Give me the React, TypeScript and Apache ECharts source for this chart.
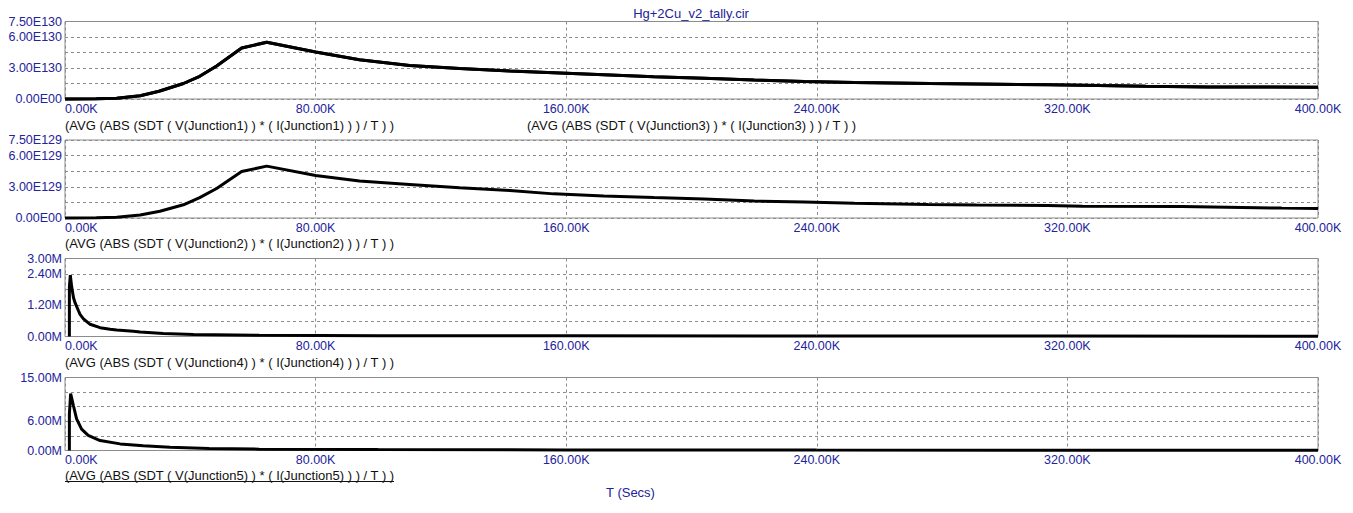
import React, { useEffect, useRef } from "react";
import * as echarts from "echarts";

// Time in thousands of seconds (K)
const xTicksK = [0, 80, 160, 240, 320, 400];

// Panel 1: Junction1 / Junction3 power, units of 1E130
const j1TimeK = [0, 1, 10, 16.5, 24, 30, 37.8, 43, 48.4, 56.4, 64.4, 80, 94, 110, 126, 142, 156, 172, 188, 204, 220, 236, 252, 276, 298, 314, 330, 345, 365, 400];
const j1ValE130 = [0, 0, 0.02, 0.07, 0.32, 0.75, 1.5, 2.2, 3.2, 4.93, 5.5, 4.55, 3.8, 3.25, 2.95, 2.72, 2.55, 2.35, 2.15, 2.02, 1.83, 1.7, 1.6, 1.5, 1.43, 1.37, 1.3, 1.24, 1.17, 1.14];
const j3TimeK = j1TimeK;
const j3ValE130 = [0, 0, 0.02, 0.07, 0.32, 0.75, 1.5, 2.2, 3.2, 4.93, 5.5, 4.55, 3.8, 3.25, 2.95, 2.72, 2.55, 2.35, 2.15, 2.02, 1.83, 1.7, 1.6, 1.5, 1.43, 1.37, 1.3, 1.24, 1.17, 1.14];

// Panel 2: Junction2, units of 1E129
const j2TimeK = [0, 1, 10, 16.5, 24, 30.3, 37.8, 43, 48.4, 56.4, 64.4, 80, 94, 110, 126, 142, 156, 172, 188, 204, 220, 236, 252, 275.5, 291, 313.6, 324.8, 356.6, 388.4, 400];
const j2ValE129 = [0, 0, 0.02, 0.07, 0.29, 0.65, 1.27, 1.96, 2.84, 4.47, 4.99, 4.08, 3.55, 3.23, 2.9, 2.64, 2.32, 2.12, 1.96, 1.83, 1.63, 1.53, 1.43, 1.3, 1.24, 1.21, 1.14, 1.11, 0.95, 0.91];

// Panel 3: Junction4, units of 1E6
const j4TimeK = [1.4, 1.4, 1.7, 2.1, 2.7, 3.2, 4.3, 4.8, 5.9, 8, 11.2, 14.4, 16.5, 21.8, 24, 31.4, 41, 62, 100, 160, 240, 320, 400];
const j4ValM = [0, 1.9, 2.36, 1.94, 1.5, 1.3, 0.99, 0.85, 0.68, 0.47, 0.34, 0.28, 0.25, 0.2, 0.17, 0.12, 0.075, 0.045, 0.03, 0.025, 0.02, 0.015, 0.012];

// Panel 4: Junction5, units of 1E6
const j5TimeK = [1.4, 1.4, 1.8, 2.7, 3.7, 5.3, 7.4, 11.2, 17.6, 25, 33.5, 46, 62, 100, 160, 240, 320, 400];
const j5ValM = [0, 7.5, 11.7, 9.2, 6.5, 4.4, 3.1, 2.05, 1.36, 1.0, 0.65, 0.42, 0.28, 0.18, 0.12, 0.08, 0.07, 0.06];

const title = "Hg+2Cu_v2_tally.cir";
const xName = "T (Secs)";
const traceNames = [
  "(AVG (ABS (SDT ( V(Junction1) ) * ( I(Junction1) ) ) / T ) )",
  "(AVG (ABS (SDT ( V(Junction3) ) * ( I(Junction3) ) ) / T ) )",
  "(AVG (ABS (SDT ( V(Junction2) ) * ( I(Junction2) ) ) / T ) )",
  "(AVG (ABS (SDT ( V(Junction4) ) * ( I(Junction4) ) ) / T ) )",
  "(AVG (ABS (SDT ( V(Junction5) ) * ( I(Junction5) ) ) / T ) )",
];

// y axis config per panel: max, interval, shown labels, suffix
const yMax = [7.5, 7.5, 3, 15];
const yInterval = [1.5, 1.5, 0.6, 3];
const yShown = [[0, 3, 6, 7.5], [0, 3, 6, 7.5], [0, 1.2, 2.4, 3], [0, 6, 15]];
const ySuffix = ["E130", "E129", "M", "M"];
const yZero = ["0.00E00", "0.00E00", "0.00M", "0.00M"];

const BLUE = "#23239c";
const FONT = "'Liberation Sans', Arial, sans-serif";

const zip = (t: number[], v: number[]) => t.map((x, i) => [x, v[i]]);

export default function App() {
  const ref = useRef<HTMLDivElement>(null);
  useEffect(() => {
    if (!ref.current) return;
    const chart = echarts.init(ref.current, null, { renderer: "svg" });
    const grids = [
      { left: 65, top: 21.5, width: 1253, height: 77.5 },
      { left: 65, top: 140, width: 1253, height: 78 },
      { left: 65, top: 258.5, width: 1253, height: 78 },
      { left: 65, top: 377.5, width: 1253, height: 73 },
    ].map((g) => ({ ...g, show: true, borderColor: "#8c8c8c", borderWidth: 1, backgroundColor: "#fff" }));

    const xAxes = grids.map((_, i) => ({
      type: "value",
      gridIndex: i,
      min: xTicksK[0],
      max: xTicksK[xTicksK.length - 1],
      interval: xTicksK[1] - xTicksK[0],
      axisLine: { show: false },
      axisTick: { show: false },
      axisLabel: {
        color: BLUE,
        fontFamily: FONT,
        fontSize: 12.5,
        margin: 3,
        alignMinLabel: "left",
        formatter: (v: number) => v.toFixed(2) + "K",
      },
      splitLine: { show: true, lineStyle: { color: "#8c8c8c", type: [3, 3], width: 1 } },
    }));

    const yAxes = grids.map((_, i) => ({
      type: "value",
      gridIndex: i,
      min: 0,
      max: yMax[i],
      interval: yInterval[i],
      axisLine: { show: false },
      axisTick: { show: false },
      axisLabel: {
        color: BLUE,
        fontFamily: FONT,
        fontSize: 12.5,
        margin: 3,
        formatter: (v: number) => {
          if (!yShown[i].some((s) => Math.abs(s - v) < 1e-6)) return "";
          if (Math.abs(v) < 1e-9) return yZero[i];
          return v.toFixed(2) + ySuffix[i];
        },
      },
      splitLine: { show: true, lineStyle: { color: "#8c8c8c", type: [3, 3], width: 1 } },
    }));

    const lineSeries = (name: string, idx: number, data: number[][]) => ({
      type: "line",
      name,
      xAxisIndex: idx,
      yAxisIndex: idx,
      data,
      showSymbol: false,
      symbol: "none",
      clip: false,
      lineStyle: { color: "#000", width: 3 },
    });

    const labelY = [125, 243.5, 362.5, 475.5];
    const lblFont = `13px ${FONT}`;
    const graphic: any[] = [
      {
        type: "text",
        x: 691,
        y: 13,
        style: { text: title, fill: BLUE, font: lblFont, textAlign: "center", textVerticalAlign: "middle" },
      },
      {
        type: "text",
        x: 630.5,
        y: 492,
        style: { text: xName, fill: BLUE, font: lblFont, textAlign: "center", textVerticalAlign: "middle" },
      },
      { type: "text", x: 65, y: labelY[0], style: { text: traceNames[0], fill: "#111", font: lblFont, textVerticalAlign: "middle" } },
      { type: "text", x: 527, y: labelY[0], style: { text: traceNames[1], fill: "#111", font: lblFont, textVerticalAlign: "middle" } },
      { type: "text", x: 65, y: labelY[1], style: { text: traceNames[2], fill: "#111", font: lblFont, textVerticalAlign: "middle" } },
      { type: "text", x: 65, y: labelY[2], style: { text: traceNames[3], fill: "#111", font: lblFont, textVerticalAlign: "middle" } },
      { type: "text", x: 65, y: labelY[3], style: { text: traceNames[4], fill: "#111", font: lblFont, textVerticalAlign: "middle" } },
      { type: "line", shape: { x1: 65, y1: 481.5, x2: 394, y2: 481.5 }, style: { stroke: "#111", lineWidth: 1 } },
    ];

    chart.setOption({
      animation: false,
      backgroundColor: "#fff",
      grid: grids,
      xAxis: xAxes,
      yAxis: yAxes,
      series: [
        lineSeries("Junction3", 0, zip(j3TimeK, j3ValE130)),
        lineSeries("Junction1", 0, zip(j1TimeK, j1ValE130)),
        lineSeries("Junction2", 1, zip(j2TimeK, j2ValE129)),
        lineSeries("Junction4", 2, zip(j4TimeK, j4ValM)),
        lineSeries("Junction5", 3, zip(j5TimeK, j5ValM)),
      ],
      graphic,
    });
    return () => chart.dispose();
  }, []);
  return (
    <div
      ref={ref}
      style={{ position: "absolute", left: 0, top: 0, width: 1353, height: 513, background: "#fff" }}
    />
  );
}
